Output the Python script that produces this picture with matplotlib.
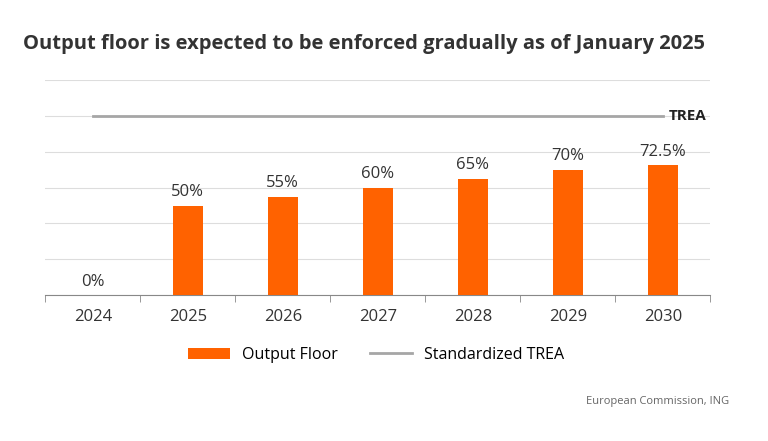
import matplotlib.pyplot as plt

years = ['2024', '2025', '2026', '2027', '2028', '2029', '2030']
floor = [0, 50, 55, 60, 65, 70, 72.5]
floor_labels = ['0%', '50%', '55%', '60%', '65%', '70%', '72.5%']
trea = [100] * len(years)

orange = '#ff6200'
grey = '#a6a6a6'

plt.rcParams['font.family'] = ['Open Sans', 'DejaVu Sans']
fig = plt.figure(figsize=(7.68, 4.41), dpi=100)
ax = fig.add_axes([0.059, 0.331, 0.866, 0.487])

x = list(range(len(years)))
bars = ax.bar(x, floor, width=0.32, color=orange, label='Output Floor', zorder=3)
line, = ax.plot(x, trea, color=grey, lw=2, label='Standardized TREA', zorder=3)
ax.text(x[-1] + 0.06, trea[-1], 'TREA', fontsize=11, fontweight='bold',
        va='center', ha='left', color='#222222')
for xi, v, lab in zip(x, floor, floor_labels):
    ax.text(xi, v + 3, lab, ha='center', va='bottom', fontsize=12, color='#333333')

ax.set_xlim(-0.5, len(years) - 0.5)
ax.set_ylim(0, 120)
ax.set_yticks(range(0, 121, 20))
ax.set_yticklabels([])
ax.tick_params(axis='y', length=0)
ax.grid(axis='y', color='#dddddd', lw=0.8, zorder=0)
ax.set_xticks(x)
ax.set_xticklabels(years, fontsize=12, color='#333333')
ax.set_xticks([i - 0.5 for i in range(len(years) + 1)], minor=True)
ax.tick_params(axis='x', which='major', length=0, pad=10)
ax.tick_params(axis='x', which='minor', length=5, color='#888888')
for s in ['top', 'right', 'left']:
    ax.spines[s].set_visible(False)
ax.spines['bottom'].set_color('#888888')

fig.text(0.03, 0.89, 'Output floor is expected to be enforced gradually as of January 2025',
         fontsize=14.5, fontweight='bold', color='#333333')
fig.legend([bars, line], ['Output Floor', 'Standardized TREA'],
           loc='center', bbox_to_anchor=(0.49, 0.195), ncol=2, frameon=False,
           fontsize=11.5, handlelength=2.6, columnspacing=2.0)
fig.text(0.95, 0.085, 'European Commission, ING', fontsize=8, color='#666666', ha='right')

fig.savefig('out.png')
